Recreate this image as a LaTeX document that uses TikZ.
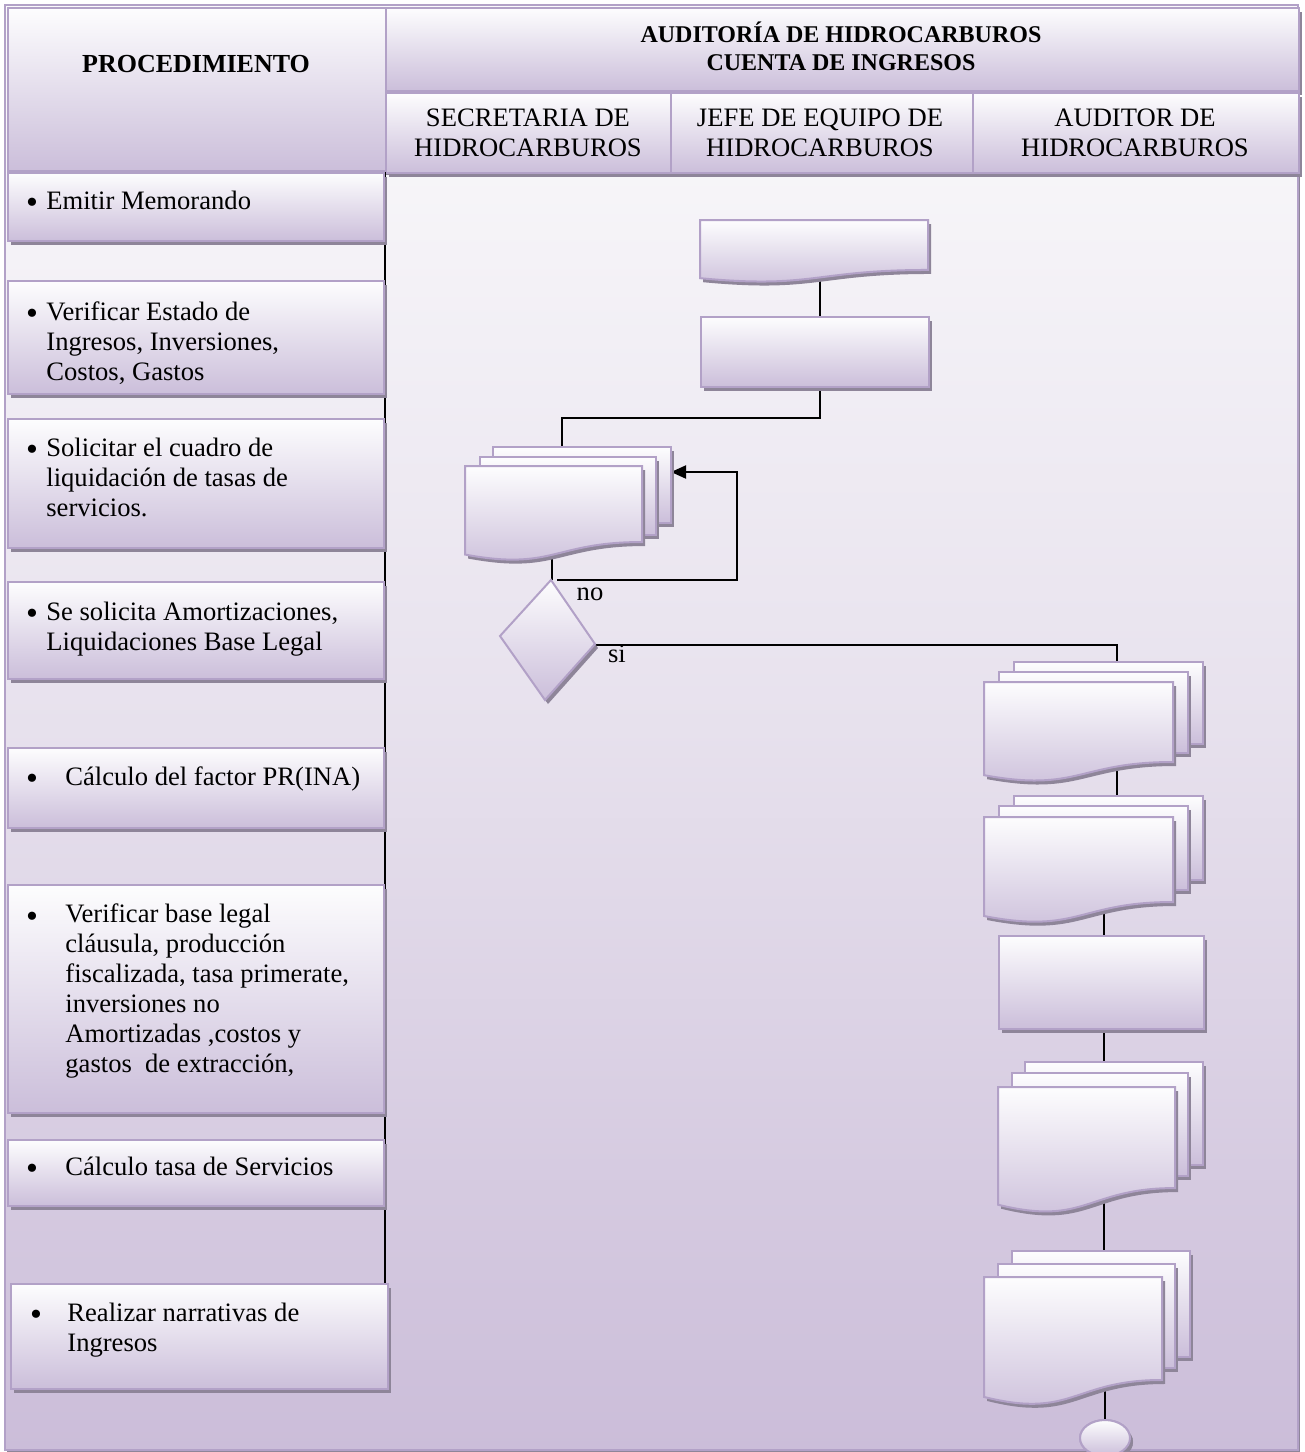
\documentclass[tikz,border=0pt]{standalone}
\usepackage{fontspec}
\setmainfont{Liberation Serif}
\usetikzlibrary{arrows.meta,shadows,shapes.geometric}

\definecolor{lavborder}{HTML}{B2A1C7}
\definecolor{lavshadow}{HTML}{8E8599}
\definecolor{lavtop}{HTML}{FDFDFE}
\definecolor{lavbot}{HTML}{CBBEDA}
\definecolor{bgtop}{HTML}{FBFBFC}
\definecolor{bgmid}{HTML}{E7E1ED}
\definecolor{bgbot}{HTML}{CBBDD9}

\newcommand\bodyfnt{\fontsize{13.3}{15}\selectfont}
\newcommand\headfnt{\bfseries\fontsize{12}{14}\selectfont}

\tikzset{
  card/.style={draw=lavborder, line width=1pt,
    top color=lavtop, bottom color=lavbot,
    drop shadow={shadow xshift=1.5pt, shadow yshift=-2pt, fill=lavshadow, opacity=1}},
  cardnode/.style={card, rectangle, inner sep=0pt, anchor=north west},
  frame/.style={draw=lavborder, line width=1.2pt,
    top color=bgtop, bottom color=bgbot, middle color=bgmid,
    drop shadow={shadow xshift=1pt, shadow yshift=-1pt, fill=lavshadow, opacity=1}},
  wire/.style={draw=black, line width=1pt},
  colline/.style={draw=black, line width=0.8pt},
  % multi-line texts are placed by the baseline of their last line
  bodytext/.style={font=\bodyfnt, inner sep=0pt, align=left, anchor=base west},
  bullet/.style={font=\fontsize{17}{17}\selectfont, inner sep=0pt, anchor=base, yshift=-1.5pt},
  label/.style={font=\bodyfnt, inner sep=0pt, anchor=base},
  lanetext/.style={font=\bodyfnt, inner sep=0pt, align=center},
  tip/.style={-{Triangle[length=7.5pt,width=6.5pt]}},
}

% rectangular card given by its corners (x1,y1) and (x2,y2)
\newcommand\cardbox[5]{%
  \node[cardnode, minimum width={(#4-#2)*0.5pt}, minimum height={(#5-#3)*0.5pt}]
    (#1) at (#2,#3) {};}

% document sheet with a wavy lower edge: x1, y1, x2, nominal height
\newcommand\docpath[4]{%
  (#1,#2) -- (#3,#2) -- (#3,{#2+0.802*#4})
  .. controls ({(#1+#3)/2},{#2+0.802*#4}) and ({(#1+#3)/2},{#2+1.108*#4}) ..
  (#1,{#2+0.934*#4}) -- cycle}

\begin{document}
\begin{tikzpicture}[x=0.5pt,y=-0.5pt]
\useasboundingbox (0,0) rectangle (1305,1452);

% outer frame
\path[frame] (5,5) rectangle (1298,1450);

% header cells
\cardbox{hproc}{7}{7}{385}{170}
\cardbox{htitle}{385}{7}{1298}{90}
\cardbox{hsec}{385}{92}{670}{172}
\cardbox{hjefe}{670}{92}{972}{172}
\cardbox{haud}{972}{92}{1298}{172}

\node[font=\bfseries\fontsize{13}{15}\selectfont, inner sep=0pt] (tproc) at (196,64) {PROCEDIMIENTO};
\node[font=\headfnt, align=center, inner sep=0pt] (ttitle) at (841,46)
  {AUDITORÍA DE HIDROCARBUROS\\CUENTA DE INGRESOS};
\node[lanetext] (tsec) at (528,133) {SECRETARIA DE\\HIDROCARBUROS};
\node[lanetext] (tjefe) at (820,133) {JEFE DE EQUIPO DE\\HIDROCARBUROS};
\node[lanetext] (taud) at (1135,133) {AUDITOR DE\\HIDROCARBUROS};

% right edge of the procedure column
\coordinate (colA) at (385,172);
\coordinate (colB) at (385,1283);
\draw[colline] (colA) -- (colB);

% procedure steps
\cardbox{lb1}{7}{172}{383}{240}
\cardbox{lb2}{7}{280}{383}{393}
\cardbox{lb3}{7}{418}{383}{547}
\cardbox{lb4}{7}{581}{383}{678}
\cardbox{lb5}{7}{747}{383}{827}
\cardbox{lb6}{7}{884}{383}{1112}
\cardbox{lb7}{7}{1139}{383}{1205}
\cardbox{lb8}{10}{1283}{387}{1388}

\node[bullet] (b1) at (32,210) {•};
\node[bodytext] (s1) at (46,209) {Emitir Memorando};
\node[bullet] (b2) at (32,321) {•};
\node[bodytext] (s2) at (46,380) {Verificar Estado de\\Ingresos, Inversiones,\\Costos, Gastos};
\node[bullet] (b3) at (32,457) {•};
\node[bodytext] (s3) at (46,516) {Solicitar el cuadro de\\liquidación de tasas de\\servicios.};
\node[bullet] (b4) at (32,621) {•};
\node[bodytext] (s4) at (46,650) {Se solicita Amortizaciones,\\Liquidaciones Base Legal};
\node[bullet] (b5) at (32,786) {•};
\node[bodytext] (s5) at (65,785) {Cálculo del factor PR(INA)};
\node[bullet] (b6) at (32,924) {•};
\node[bodytext] (s6) at (65,1072) {Verificar base legal\\cláusula, producción\\fiscalizada, tasa primerate,\\inversiones no\\Amortizadas ,costos y\\gastos\ \ de extracción,};
\node[bullet] (b7) at (32,1176) {•};
\node[bodytext] (s7) at (65,1175) {Cálculo tasa de Servicios};
\node[bullet] (b8) at (36,1322) {•};
\node[bodytext] (s8) at (67,1351) {Realizar narrativas de\\Ingresos};

% connection points of the flow shapes
\coordinate (doc1-out) at (820,272);
\coordinate (j1) at (820,418);
\coordinate (md1-in) at (562,448);
\coordinate (md1-out) at (552,552);
\coordinate (md1-back) at (671,472);
\coordinate (dia-top) at (551,580);
\coordinate (dia-right) at (595,645);
\coordinate (no-a) at (557,580);
\coordinate (no-b) at (737,472);
\coordinate (md2-in) at (1117,663);
\coordinate (md2-out) at (1117,760);
\coordinate (md3-in) at (1117,797);
\coordinate (md3-out) at (1104,905);
\coordinate (md4-in) at (1104,1063);
\coordinate (md4-out) at (1104,1200);
\coordinate (md5-in) at (1104,1252);
\coordinate (md5-out) at (1105,1382);

\cardbox{r2}{700}{316}{928}{386}
\cardbox{r3}{998}{935}{1203}{1028}
\node[card, ellipse, inner sep=0pt, minimum width=25pt, minimum height=18pt] (fin) at (1105,1438) {};

% connectors (laid under the shapes)
\draw[wire] (doc1-out) -- (doc1-out |- r2.north);
\draw[wire] (r2.south -| j1) -- (j1) -| (md1-in);
\draw[wire] (md1-out) -- (md1-out |- dia-top);
\draw[wire, tip] (no-a) -| (no-b) -- (md1-back);
\draw[wire] (dia-right) -| (md2-in);
\draw[wire] (md2-out) -- (md3-in);
\draw[wire] (md3-out) -- (md3-out |- r3.north);
\draw[wire] (r3.south -| md3-out) -- (md4-in);
\draw[wire] (md4-out) -- (md5-in);
\draw[wire] (md5-out) -- (fin.north);

% document
\path[card] \docpath{700}{220}{928}{62.3};

% multi-document stacks
\path[card] (493,447) rectangle (671,523);
\path[card] (480,457) rectangle (656,535);
\path[card] \docpath{465}{466}{642}{94.8};

% decision
\path[card] (551,580) -- (595,644) -- (545,700) -- (500,636) -- cycle;
\node[label] (lno) at (590,600) {no};
\node[label] (lsi) at (617,662) {si};

\path[card] (1014,662) rectangle (1203,744);
\path[card] (999,672) rectangle (1188,753);
\path[card] \docpath{984}{682}{1173}{99.75};

\path[card] (1014,796) rectangle (1203,880);
\path[card] (999,806) rectangle (1188,890);
\path[card] \docpath{984}{817}{1173}{106};

\path[card] (1025,1062) rectangle (1203,1165);
\path[card] (1012,1073) rectangle (1188,1176);
\path[card] \docpath{998}{1087}{1175}{126};

\path[card] (1012,1251) rectangle (1190,1357);
\path[card] (998,1264) rectangle (1175,1368);
\path[card] \docpath{984}{1277}{1162}{128.4};

% rectangles and terminator redrawn above their connectors
\cardbox{r2b}{700}{316}{928}{386}
\cardbox{r3b}{998}{935}{1203}{1028}
\node[card, ellipse, inner sep=0pt, minimum width=25pt, minimum height=18pt] (finb) at (1105,1438) {};
\end{tikzpicture}
\end{document}
